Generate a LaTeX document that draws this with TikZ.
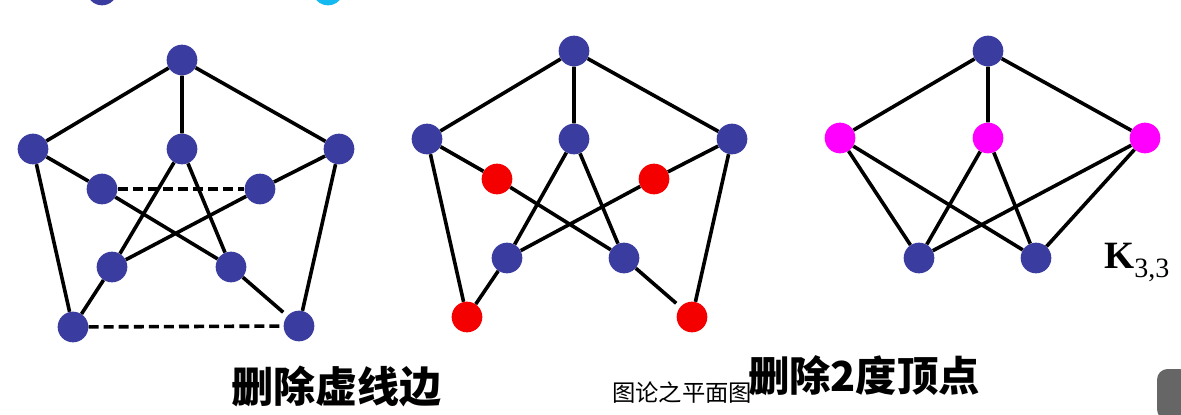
\documentclass[tikz,border=0pt]{standalone}
\usepackage{fontspec}
\usepackage{tikz}
\usetikzlibrary{calc}
\newfontfamily\cjk{Noto Sans CJK SC}
\newfontfamily\tnr{Liberation Serif}
\definecolor{v-blue}{RGB}{58,60,160}
\definecolor{v-red}{RGB}{245,0,0}
\definecolor{v-pink}{RGB}{255,0,255}
\definecolor{v-cyan}{RGB}{20,185,240}
\tikzset{
	vtx/.style={circle, fill=v-blue, inner sep=0pt, minimum size=23pt},
	vtxred/.style={vtx, fill=v-red},
	vtxpink/.style={vtx, fill=v-pink},
	edge/.style={line width=2.7pt},
	dashedge/.style={edge, dash pattern=on 7.5pt off 3.8pt},
}

\begin{document}
\begin{tikzpicture}[x=0.75pt, y=-0.75pt]
					\useasboundingbox (0,0) rectangle (1181,414);
					\clip (0,0) rectangle (1181,414);
					
					% cut off dots at the top
					\node[vtx] at (102,-10) (topa) {};
					\node[vtx, fill=v-cyan] at (328,-10) (topb) {};
					
					% first graph
					\node[vtx] at (182,60) (a1) {};
					\node[vtx] at (33,149) (b1) {};
					\node[vtx] at (182,149) (c1) {};
					\node[vtx] at (339,149) (d1) {};
					\node[vtx] at (102,189) (e1) {};
					\node[vtx] at (260,189) (f1) {};
					\node[vtx] at (112,267) (g1) {};
					\node[vtx] at (231,267) (h1) {};
					\node[vtx] at (73,327) (i1) {};
					\node[vtx] at (299,326) (j1) {};
					
					\draw[edge] (a1) -- (b1) (a1) -- (c1) (a1) -- (d1);
					\draw[edge] (b1) -- (e1) (b1) -- (i1);
					\draw[edge] (d1) -- (f1) (d1) -- (j1);
					\draw[edge] (c1) -- (g1) (c1) -- (h1);
					\draw[edge] (e1) -- (h1) (f1) -- (g1);
					\draw[edge] (g1) -- (i1);
					\draw[edge, shorten >=4pt] (h1) -- (j1);
					\draw[dashedge] (e1) -- (f1);
					\draw[dashedge] (i1) -- (j1);
					
					% second graph
					\node[vtx] at (574,51) (a2) {};
					\node[vtx] at (427,139) (b2) {};
					\node[vtx] at (574,139) (c2) {};
					\node[vtx] at (732,139) (d2) {};
					\node[vtxred] at (497,179) (e2) {};
					\node[vtxred] at (654,179) (f2) {};
					\node[vtx] at (507,258) (g2) {};
					\node[vtx] at (624,258) (h2) {};
					\node[vtxred] at (467,317) (i2) {};
					\node[vtxred] at (692,317) (j2) {};
					
					\draw[edge] (a2) -- (b2) (a2) -- (c2) (a2) -- (d2);
					\draw[edge] (b2) -- (e2) (b2) -- (i2);
					\draw[edge] (d2) -- (f2) (d2) -- (j2);
					\draw[edge] (c2) -- (g2) (c2) -- (h2);
					\draw[edge] (e2) -- (h2) (f2) -- (g2);
					\draw[edge] (g2) -- (i2);
					\draw[edge, shorten >=4pt] (h2) -- (j2);
					
					% K33
					\node[vtx] at (988,51) (a3) {};
					\node[vtxpink] at (840,138) (b3) {};
					\node[vtxpink] at (988,138) (c3) {};
					\node[vtxpink] at (1145,138) (d3) {};
					\node[vtx] at (919,258) (e3) {};
					\node[vtx] at (1036,258) (f3) {};
					
					\draw[edge] (a3) -- (b3) (a3) -- (c3) (a3) -- (d3);
					\foreach \p in {b3,c3,d3}
						\draw[edge] (\p) -- (e3) (\p) -- (f3);
					
					\node[anchor=base west, inner sep=0pt] at (1104,268) (klabel) {\fontsize{29}{29}\tnr\bfseries K\raisebox{-0.25em}{\fontsize{21}{21}\mdseries 3,3}};
					
					% captions
					\node[inner sep=0pt] at (336,386) (cap1) {\fontsize{31.5}{31.5}\cjk\bfseries 删除虚线边};
					\node[inner sep=0pt] at (682,393) (cap0) {\fontsize{17.5}{17.5}\cjk 图论之平面图};
					\node[inner sep=0pt] at (864,376) (cap2) {\fontsize{31}{31}\cjk\bfseries 删除2度顶点};
					
					\fill[black!60, rounded corners=8pt] (1157,420) -- (1157,369) -- (1190,369) -- (1190,420) -- cycle;
\end{tikzpicture}
\end{document}
